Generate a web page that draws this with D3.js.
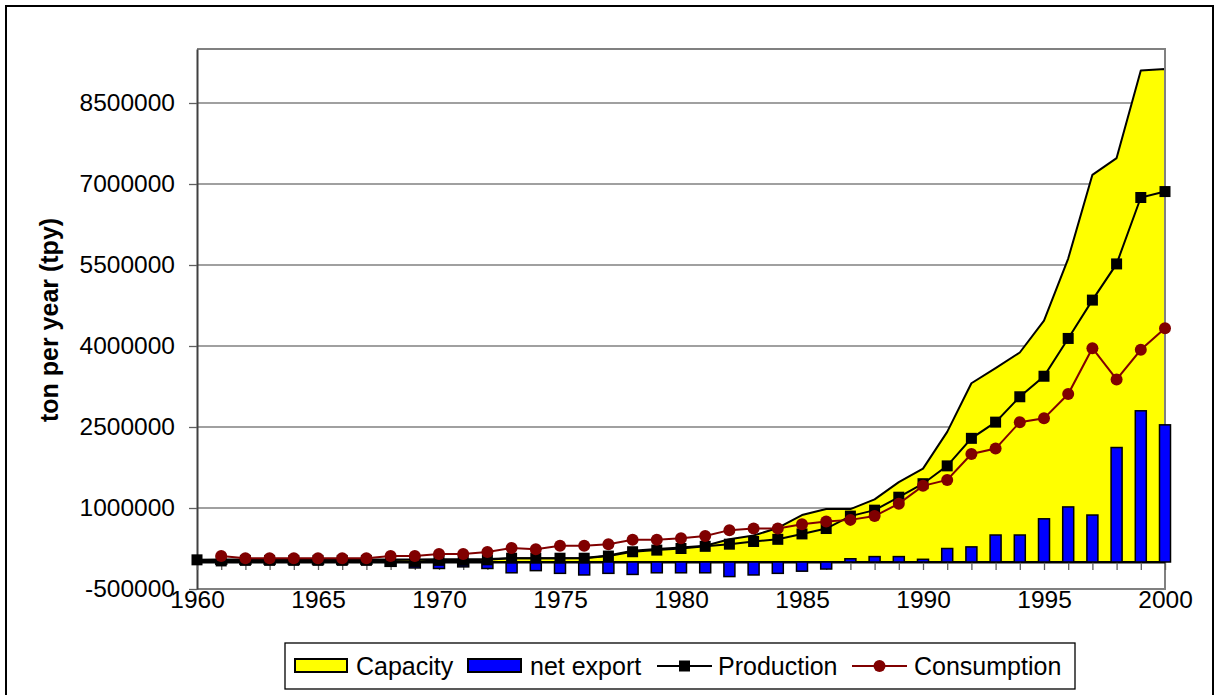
<!DOCTYPE html>
<meta charset="utf-8">
<script src="https://cdn.jsdelivr.net/npm/d3@7"></script>
<style>
  body { margin: 0; background: #fff; }
  text { font-family: "Liberation Sans", Arial, sans-serif; fill: #000; }
</style>
<body>
<script>

// values, in ton per year
var years = d3.range(1960, 2001)

var capacity = [40000, 45000, 45000, 45000, 45000, 45000, 45000, 45000, 45000, 45000,
                50000, 50000, 55000, 70000, 70000, 70000, 75000, 120000, 210000, 240000,
                270000, 300000, 420000, 490000, 630000, 870000, 980000, 980000, 1160000, 1480000,
                1730000, 2410000, 3310000, 3590000, 3880000, 4470000, 5620000, 7170000, 7480000, 9100000,
                9130000]

var production = [40000, 20000, 30000, 30000, 30000, 30000, 30000, 30000, 20000, 10000,
                  30000, 30000, 40000, 70000, 70000, 70000, 70000, 110000, 190000, 220000,
                  250000, 290000, 330000, 380000, 420000, 520000, 620000, 850000, 960000, 1200000,
                  1450000, 1780000, 2290000, 2590000, 3060000, 3440000, 4140000, 4850000, 5520000, 6750000,
                  6860000]

// consumption and net export start in 1961
var consYears = d3.range(1961, 2001)
var consumption = [110000, 70000, 70000, 70000, 70000, 70000, 70000, 110000, 110000,
                   150000, 150000, 185000, 260000, 235000, 300000, 300000, 330000, 410000, 410000,
                   440000, 480000, 590000, 620000, 620000, 700000, 750000, 780000, 850000, 1080000,
                   1410000, 1520000, 2000000, 2100000, 2590000, 2660000, 3110000, 3960000, 3380000, 3930000,
                   4330000]

var netExport = [-40000, -40000, -40000, -40000, -40000, -40000, -40000, -80000, -110000,
                 -120000, -90000, -120000, -200000, -160000, -210000, -240000, -210000, -230000, -200000,
                 -200000, -200000, -270000, -240000, -210000, -170000, -130000, 60000, 100000, 100000,
                 50000, 250000, 280000, 500000, 500000, 800000, 1020000, 870000, 2120000, 2800000,
                 2540000]

var yTicks = d3.range(-500000, 9500001, 1500000)
var xLabels = d3.range(1960, 2001, 5)
var legendNames = ["Capacity", "net export", "Production", "Consumption"]

var width = 1215
var height = 695

var x = d3.scaleLinear().domain([1960, 2000]).range([197, 1165])
var y = d3.scaleLinear().domain([-500000, 9500000]).range([589, 49])

var svg = d3.select("body").append("svg")
            .attr("width", width)
            .attr("height", height)

// outer chart frame
svg.append("rect")
   .attr("x", 6).attr("y", 6)
   .attr("width", 1207).attr("height", 710)
   .attr("fill", "#fff").attr("stroke", "#000").attr("stroke-width", 2)

// gridlines
svg.append("g").selectAll("line")
   .data(yTicks.filter(function(d) { return d > -500000 }))
   .enter().append("line")
   .attr("x1", x(1960)).attr("x2", x(2000))
   .attr("y1", function(d) { return y(d) }).attr("y2", function(d) { return y(d) })
   .attr("stroke", "#808080").attr("stroke-width", 1.3)

// capacity area
var area = d3.area()
   .x(function(d, i) { return x(years[i]) })
   .y0(y(0))
   .y1(function(d) { return y(d) })

svg.append("path")
   .attr("d", area(capacity) + "Z")
   .attr("fill", "#ffff00")
   .attr("stroke", "#000")
   .attr("stroke-width", 2)
   .attr("stroke-linejoin", "round")

// plot area frame (top, right, bottom)
svg.append("path")
   .attr("d", "M" + x(1960) + "," + y(9500000) + "H" + x(2000) + "V" + y(-500000) + "H" + x(1960))
   .attr("fill", "none").attr("stroke", "#808080").attr("stroke-width", 2)

// y axis
var yAxis = svg.append("g")
   .attr("transform", "translate(" + x(1960) + ",0)")
   .call(d3.axisLeft(y).tickValues(yTicks).tickSize(8).tickSizeOuter(0).tickPadding(14)
           .tickFormat(function(d) { return String(d) }))
yAxis.select(".domain").attr("stroke", "#404040").attr("stroke-width", 2)
yAxis.selectAll(".tick line").attr("stroke", "#606060").attr("stroke-width", 1.3)
yAxis.selectAll(".tick text").style("font-size", "24.5px").attr("fill", "#000")

svg.append("text")
   .attr("transform", "translate(58,320) rotate(-90)")
   .style("text-anchor", "middle")
   .style("font-size", "25px")
   .style("font-weight", "bold")
   .text("ton per year (tpy)")

// x axis at zero with yearly tick marks
var xAxis = svg.append("g")
   .attr("transform", "translate(0," + y(0) + ")")
   .call(d3.axisBottom(x).tickValues(years).tickSize(8).tickSizeOuter(0).tickFormat(""))
xAxis.select(".domain").attr("stroke", "#000").attr("stroke-width", 2)
xAxis.selectAll(".tick line").attr("stroke", "#606060").attr("stroke-width", 1.3)

// net export bars
var barW = 11
svg.append("g").selectAll("rect")
   .data(netExport)
   .enter().append("rect")
   .attr("x", function(d, i) { return x(consYears[i]) - barW / 2 })
   .attr("y", function(d) { return y(Math.max(0, d)) })
   .attr("width", barW)
   .attr("height", function(d) { return Math.abs(y(d) - y(0)) })
   .attr("fill", "#0000ff")
   .attr("stroke", "#000")
   .attr("stroke-width", 1.5)

// year labels along the bottom
var xLab = svg.append("g")
   .attr("transform", "translate(0," + y(-500000) + ")")
   .call(d3.axisBottom(x).tickValues(xLabels).tickSize(0).tickPadding(2).tickFormat(d3.format("d")))
xLab.select(".domain").remove()
xLab.selectAll(".tick text").style("font-size", "24.5px").attr("fill", "#000")

// production
var prodLine = d3.line()
   .x(function(d, i) { return x(years[i]) })
   .y(function(d) { return y(d) })

svg.append("path")
   .attr("d", prodLine(production))
   .attr("fill", "none").attr("stroke", "#000").attr("stroke-width", 2)

svg.append("g").selectAll("rect")
   .data(production)
   .enter().append("rect")
   .attr("x", function(d, i) { return x(years[i]) - 5.5 })
   .attr("y", function(d) { return y(d) - 5.5 })
   .attr("width", 11).attr("height", 11)
   .attr("fill", "#000")

// consumption
var consLine = d3.line()
   .x(function(d, i) { return x(consYears[i]) })
   .y(function(d) { return y(d) })

svg.append("path")
   .attr("d", consLine(consumption))
   .attr("fill", "none").attr("stroke", "#800000").attr("stroke-width", 2)

svg.append("g").selectAll("circle")
   .data(consumption)
   .enter().append("circle")
   .attr("cx", function(d, i) { return x(consYears[i]) })
   .attr("cy", function(d) { return y(d) })
   .attr("r", 6)
   .attr("fill", "#800000")

// legend
var legend = svg.append("g")
legend.append("rect")
   .attr("x", 285).attr("y", 643).attr("width", 790).attr("height", 46)
   .attr("fill", "#fff").attr("stroke", "#000").attr("stroke-width", 1.3)

legend.append("rect").attr("x", 295).attr("y", 659).attr("width", 52).attr("height", 13)
   .attr("fill", "#ffff00").attr("stroke", "#000").attr("stroke-width", 2)
legend.append("rect").attr("x", 468).attr("y", 659).attr("width", 53).attr("height", 13)
   .attr("fill", "#0000ff").attr("stroke", "#000").attr("stroke-width", 2)

legend.append("line").attr("x1", 657).attr("x2", 712).attr("y1", 666).attr("y2", 666)
   .attr("stroke", "#000").attr("stroke-width", 2)
legend.append("rect").attr("x", 679).attr("y", 660.5).attr("width", 11).attr("height", 11)
   .attr("fill", "#000")

legend.append("line").attr("x1", 852).attr("x2", 907).attr("y1", 666).attr("y2", 666)
   .attr("stroke", "#800000").attr("stroke-width", 2)
legend.append("circle").attr("cx", 879.5).attr("cy", 666).attr("r", 6)
   .attr("fill", "#800000")

var legendX = [356, 530, 718, 914]
legend.selectAll("text.lab")
   .data(legendNames)
   .enter().append("text")
   .attr("class", "lab")
   .attr("x", function(d, i) { return legendX[i] })
   .attr("y", 675)
   .style("font-size", "25px")
   .text(function(d) { return d })

</script>
</body>
